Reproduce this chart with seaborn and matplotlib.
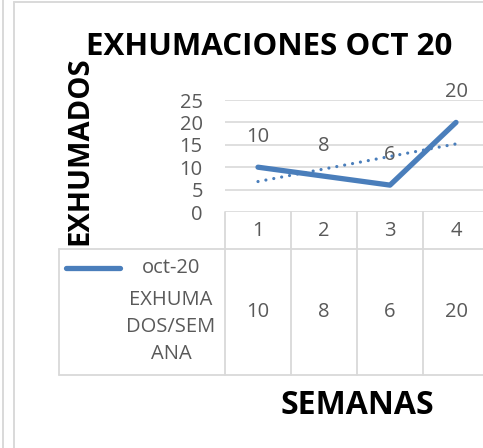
import matplotlib
matplotlib.use("Agg")
import matplotlib.pyplot as plt
import matplotlib.transforms as mtransforms
from matplotlib.lines import Line2D
import seaborn as sns
import pandas as pd

# Weekly exhumations, October 2020
semanas = [1, 2, 3, 4]
exhumados = [10, 8, 6, 20]
y_ticks = [0, 5, 10, 15, 20, 25]
serie = "oct-20"
serie_desc = "EXHUMA\nDOS/SEM\nANA"
titulo = "EXHUMACIONES OCT 20"
eje_y = "EXHUMADOS"
eje_x = "SEMANAS"

BLUE = "#4A7EBB"
GRID = "#D9D9D9"
TXT = "#595959"
NUM_SIZE = 14.5

sns.set_theme(style="white")
plt.rcParams["font.family"] = ["Open Sans", "DejaVu Sans"]

W, H = 483, 448
fig = plt.figure(figsize=(W / 100, H / 100), dpi=100)


def fx(px):
    return px / W


def fy(py):
    return 1 - py / H


# plot area
ax = fig.add_axes([fx(225), fy(212), 264 / W, 112 / H])
df = pd.DataFrame({"semana": semanas, "exhumados": exhumados})

sns.lineplot(data=df, x="semana", y="exhumados", ax=ax, color=BLUE,
             linewidth=3.8, solid_capstyle="round", solid_joinstyle="round",
             zorder=3)
sns.regplot(data=df, x="semana", y="exhumados", ax=ax, scatter=False,
            ci=None, truncate=True, color=BLUE,
            line_kws=dict(linewidth=2.3, linestyle=(0, (0.01, 2.5)),
                          dash_capstyle="round", zorder=4))

ax.set_xlim(0.5, 4.5)
ax.set_ylim(0, 25)
ax.set_yticks(y_ticks)
ax.set_xticks([])
ax.set_xlabel("")
ax.set_ylabel("")
ax.tick_params(axis="y", length=0, pad=16, labelsize=NUM_SIZE,
               labelcolor=TXT)
for s in ax.spines.values():
    s.set_visible(False)
ax.yaxis.grid(True, color=GRID, linewidth=1.2)
ax.set_axisbelow(True)
ax.patch.set_alpha(0)

# data labels above each point
for x, v in zip(semanas, exhumados):
    ax.annotate(str(v), (x, v), xytext=(0, 22), textcoords="offset points",
                ha="center", va="center", fontsize=NUM_SIZE, color=TXT)

# data table below the plot
bt = mtransforms.blended_transform_factory(ax.transData, fig.transFigure)
lw_tab = 1.3
leg_left = 0.5 - (225 - 59) / 66
edges = [s - 0.5 for s in semanas] + [semanas[-1] + 0.5]
for e in edges:
    fig.add_artist(Line2D([e, e], [fy(212), fy(375)], transform=bt,
                          color=GRID, linewidth=lw_tab))
fig.add_artist(Line2D([leg_left, leg_left], [fy(249), fy(375)], transform=bt,
                      color=GRID, linewidth=lw_tab))
for yy in (249, 375):
    fig.add_artist(Line2D([leg_left, edges[-1]], [fy(yy), fy(yy)],
                          transform=bt, color=GRID, linewidth=lw_tab))

for x, v in zip(semanas, exhumados):
    fig.text(x, fy(231), str(x), transform=bt, ha="center", va="center",
             fontsize=NUM_SIZE, color=TXT)
    fig.text(x, fy(312), str(v), transform=bt, ha="center", va="center",
             fontsize=NUM_SIZE, color=TXT)

# legend key inside the table
fig.add_artist(Line2D([fx(66), fx(120)], [fy(268), fy(268)], color=BLUE,
                      linewidth=3.8, solid_capstyle="round"))
fig.text(fx(171), fy(268), serie, ha="center", va="center",
         fontsize=NUM_SIZE, color=TXT)
fig.text(fx(171), fy(327), serie_desc, ha="center", va="center",
         fontsize=NUM_SIZE, color=TXT, linespacing=1.45)

# titles
fig.text(fx(269), fy(47), titulo, ha="center", va="center", fontsize=22.5,
         fontweight="bold", color="black")
fig.text(fx(80), fy(151), eje_y, ha="center", va="center", rotation=90,
         fontsize=21, fontweight="bold", color="black")
fig.text(fx(357), fy(405), eje_x, ha="center", va="center", fontsize=23,
         fontweight="bold", color="black")

# outer frame lines
fig.add_artist(Line2D([fx(3), fx(3)], [0, 1], color=GRID, linewidth=1.4))
fig.add_artist(Line2D([fx(13.5), fx(13.5)], [0, fy(2)], color=GRID,
                      linewidth=1.4))
fig.add_artist(Line2D([fx(13.5), 1], [fy(2), fy(2)], color=GRID,
                      linewidth=1.4))

fig.savefig("out.png", dpi=100)
